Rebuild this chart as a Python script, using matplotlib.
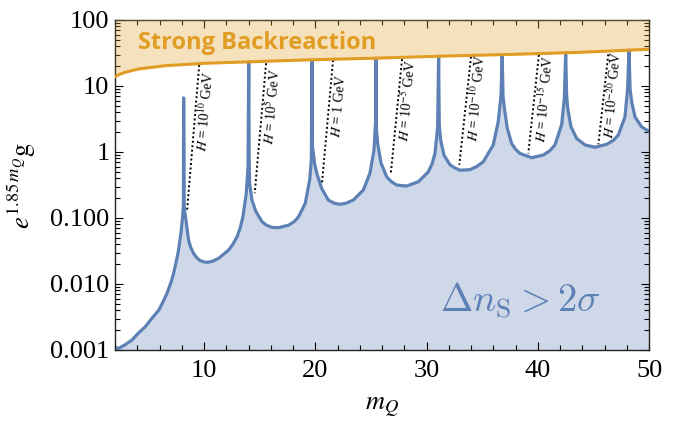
import matplotlib
matplotlib.use("Agg")
import matplotlib.pyplot as plt
import matplotlib.ticker as ticker

plt.rcParams['font.family'] = 'serif'
plt.rcParams['font.serif'] = ['Liberation Serif', 'DejaVu Serif']
plt.rcParams['mathtext.fontset'] = 'stix'

BLUE = '#5E81B5'
ORANGE = '#E19C24'

# blue curve, spikes go up to the backreaction line
curve_x = [2.0, 2.33, 2.9, 3.53, 4.1, 4.72, 5.3, 5.93, 6.3, 6.67, 7.0, 7.27, 7.66, 7.93, 8.08, 8.15,
           8.17,
           8.22, 8.3, 8.38, 8.5, 8.62, 8.8, 9.07, 9.35, 9.67, 10.0, 10.33, 10.8, 11.32, 12.22, 12.6, 12.97, 13.25, 13.5, 13.8, 13.96,
           14.02,
           14.06, 14.1, 14.31, 14.67, 15.21, 15.6, 16.11, 16.71, 17.61, 18.1, 18.51, 19.1, 19.5, 19.65,
           19.7,
           19.75, 19.83, 19.95, 20.13, 20.58, 21.17, 21.7, 22.22, 22.8, 23.42, 24.32, 24.92, 25.28, 25.43,
           25.46,
           25.5, 25.61, 25.91, 26.42, 26.85, 27.32, 28.22, 29.27, 30.16, 30.5, 30.76, 31.0,
           31.09,
           31.15, 31.27, 31.57, 32.11, 32.5, 33.0, 33.9, 34.5, 35.1, 36.0, 36.45, 36.7,
           36.8,
           36.88, 37.0, 37.26, 37.65, 38.0, 38.4, 39.46, 40.5, 41.1, 41.55, 42.15, 42.39,
           42.51,
           42.6, 42.69, 42.99, 43.5, 44.25, 45.15, 46.2, 46.8, 47.24, 47.84, 48.08,
           48.2,
           48.3, 48.44, 48.74, 49.34, 50.0]
curve_y = [0.0011, 0.00106, 0.0012, 0.00142, 0.0018, 0.00225, 0.003, 0.004, 0.0053, 0.0072, 0.0102, 0.0145, 0.029, 0.059, 0.105, 0.16,
           6.6,
           0.15, 0.115, 0.093, 0.064, 0.046, 0.036, 0.029, 0.025, 0.0225, 0.0216, 0.0213, 0.0222, 0.0245, 0.0328, 0.04, 0.052, 0.07, 0.105, 0.237, 0.6,
           23.3,
           0.8, 0.335, 0.187, 0.125, 0.088, 0.078, 0.072, 0.0714, 0.078, 0.088, 0.105, 0.167, 0.377, 0.76,
           25.0,
           1.2, 0.95, 0.65, 0.48, 0.28, 0.187, 0.168, 0.161, 0.168, 0.187, 0.265, 0.48, 1.07, 3.05,
           26.5,
           2.2, 1.35, 0.68, 0.42, 0.355, 0.316, 0.305, 0.355, 0.50, 0.66, 0.95, 2.4,
           28.3,
           2.5, 1.52, 0.90, 0.64, 0.58, 0.53, 0.54, 0.6, 0.71, 1.28, 2.9, 7.3,
           30.0,
           7.0, 4.6, 2.3, 1.35, 1.1, 0.95, 0.82, 0.90, 1.05, 1.28, 2.6, 6.5,
           32.0,
           7.0, 4.6, 2.4, 1.6, 1.28, 1.18, 1.31, 1.5, 1.81, 3.4, 9.2,
           35.0,
           9.0, 5.8, 3.4, 2.4, 2.05]

# strong backreaction boundary
br_x = [2.0, 2.4, 2.9, 4.1, 6.5, 10.1, 14.6, 19.1, 25.1, 31.9, 37.9, 43.9, 50.0]
br_y = [13.8, 15.0, 16.1, 18.1, 20.3, 22.1, 23.4, 24.8, 26.3, 28.5, 30.2, 32.4, 36.0]

# dotted lines of constant H: top point and bottom point
h_top_x = [9.57, 15.58, 21.6, 27.8, 34.0, 40.1, 46.34]
h_top_y = [20.8, 22.1, 24.7, 25.5, 27.8, 29.5, 30.2]
h_bot_x = [8.47, 14.56, 20.6, 26.78, 32.95, 39.15, 45.45]
h_bot_y = [0.125, 0.237, 0.33, 0.45, 0.64, 0.95, 1.31]
h_labels = [r'$H$ = 10$^{10}$ GeV', r'$H$ = 10$^{5}$ GeV', r'$H$ = 1 GeV',
            r'$H$ = 10$^{-5}$ GeV', r'$H$ = 10$^{-10}$ GeV', r'$H$ = 10$^{-15}$ GeV',
            r'$H$ = 10$^{-20}$ GeV']
h_lab_x = [10.1, 16.15, 22.15, 28.3, 34.5, 40.6, 46.8]
h_lab_y = [4.1, 4.8, 5.0, 6.1, 6.6, 6.3, 7.4]

yticks = [0.001, 0.01, 0.1, 1, 10, 100]
yticklabels = ['0.001', '0.010', '0.100', '1', '10', '100']
xticks = [10, 20, 30, 40, 50]

fig = plt.figure(figsize=(6.76, 4.24), dpi=100)
ax = fig.add_axes([115/676, 74/424, 534/676, 330/424])

ax.fill_between(curve_x, curve_y, 1e-4, color=BLUE, alpha=0.3, lw=0, zorder=1)
ax.plot(curve_x, curve_y, color=BLUE, lw=2.3, solid_joinstyle='round', zorder=2)

ax.fill_between(br_x, br_y, 1000, color=ORANGE, alpha=0.3, lw=0, zorder=3)
ax.plot(br_x, br_y, color=ORANGE, lw=2.2, zorder=4)

for i in range(len(h_labels)):
    ax.plot([h_top_x[i], h_bot_x[i]], [h_top_y[i], h_bot_y[i]], color='black',
            lw=1.4, ls=(0, (1, 1.3)), zorder=2.5)
    ax.text(h_lab_x[i], h_lab_y[i], h_labels[i], rotation=85, rotation_mode='anchor',
            ha='center', va='center', fontsize=10, zorder=5)

ax.text(0.043, 0.93, 'Strong Backreaction', transform=ax.transAxes, family='Open Sans',
        weight='bold', fontsize=17, color=ORANGE, ha='left', va='center', zorder=6)
ax.text(0.76, 0.15, r'$\Delta n_{\mathrm{S}} > 2\sigma$', transform=ax.transAxes,
        fontsize=28, color=BLUE, ha='center', va='center', zorder=6, math_fontfamily='cm')

ax.set_xlim(2, 50)
ax.set_yscale('log')
ax.set_ylim(0.001, 100)
ax.set_xticks(xticks)
ax.xaxis.set_minor_locator(ticker.MultipleLocator(2))
ax.set_yticks(yticks)
ax.set_yticklabels(yticklabels)
ax.yaxis.set_minor_locator(ticker.LogLocator(base=10, subs=range(2, 10), numticks=20))
ax.yaxis.set_minor_formatter(ticker.NullFormatter())
ax.tick_params(which='both', direction='in', top=True, right=True, labelsize=19, width=0.8)
ax.tick_params(which='major', length=6)
ax.tick_params(which='minor', length=3.5)
ax.tick_params(axis='x', pad=7)
ax.tick_params(axis='y', pad=4)
for s in ax.spines.values():
    s.set_linewidth(1.0)
    s.set_color('#222222')

ax.set_xlabel(r'$m_Q$', fontsize=19)
ax.set_ylabel(r'$e^{1.85\,m_Q}\mathrm{g}$', fontsize=19)
ax.xaxis.set_label_coords(0.5, -0.14)
ax.yaxis.set_label_coords(-0.145, 0.5)

fig.savefig('out.png', dpi=100)
